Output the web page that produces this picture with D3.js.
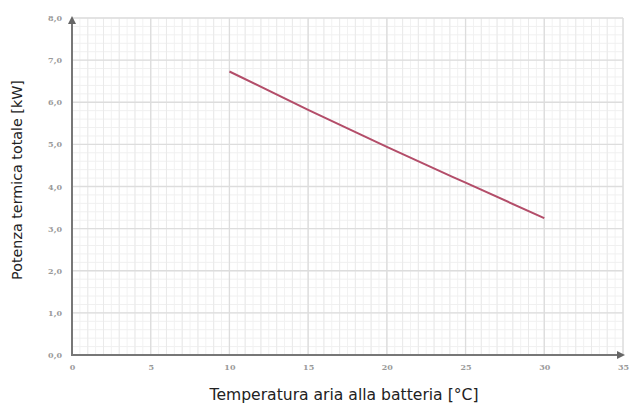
<!DOCTYPE html>
<html><head><meta charset="utf-8">
<script src="https://cdn.jsdelivr.net/npm/d3@7"></script>
<style>body{margin:0;background:#fff}svg{display:block}</style>
</head><body>
<svg id="c" width="630" height="403"></svg>
<script>
const temps = [10, 15, 20, 25, 30];
const power = [6.73, 5.82, 4.94, 4.09, 3.25];
const xTicks = [0, 5, 10, 15, 20, 25, 30, 35];
const yTicks = [0, 1, 2, 3, 4, 5, 6, 7, 8];
const xTitle = "Temperatura aria alla batteria [°C]";
const yTitle = "Potenza termica totale [kW]";

const svg = d3.select("#c");
const x = d3.scaleLinear().domain([0, 35]).range([72, 623]);
const y = d3.scaleLinear().domain([0, 8]).range([355, 18]);

const g = svg.append("g");
// minor grid
g.selectAll(".mx").data(d3.range(0, 35.01, 0.5)).join("line")
  .attr("x1", d => x(d)).attr("x2", d => x(d)).attr("y1", y(8)).attr("y2", y(0))
  .attr("stroke", "#f2f2f2").attr("stroke-width", 1);
g.selectAll(".my").data(d3.range(0, 8.01, 0.2)).join("line")
  .attr("y1", d => y(d)).attr("y2", d => y(d)).attr("x1", x(0)).attr("x2", x(35))
  .attr("stroke", "#f0f0f0").attr("stroke-width", 1);
// mid grid
g.selectAll(".ix").data(d3.range(0, 35.01, 1)).join("line")
  .attr("x1", d => x(d)).attr("x2", d => x(d)).attr("y1", y(8)).attr("y2", y(0))
  .attr("stroke", "#eaeaea").attr("stroke-width", 1);
// major grid
g.selectAll(".gx").data(xTicks).join("line")
  .attr("x1", d => x(d)).attr("x2", d => x(d)).attr("y1", y(8)).attr("y2", y(0))
  .attr("stroke", "#dddddd").attr("stroke-width", 1.3);
g.selectAll(".gy").data(yTicks).join("line")
  .attr("y1", d => y(d)).attr("y2", d => y(d)).attr("x1", x(0)).attr("x2", x(35))
  .attr("stroke", "#dddddd").attr("stroke-width", 1.3);

// axes
const fmt = d => d3.format(".1f")(d).replace(".", ",");
const xAxis = svg.append("g").attr("transform", `translate(0,${y(0)})`)
  .call(d3.axisBottom(x).tickValues(xTicks).tickSize(0).tickPadding(9).tickFormat(d3.format("d")));
const yAxis = svg.append("g").attr("transform", `translate(${x(0)},0)`)
  .call(d3.axisLeft(y).tickValues(yTicks).tickSize(0).tickPadding(10).tickFormat(fmt));
[xAxis, yAxis].forEach(a => {
  a.select(".domain").remove();
  a.selectAll("text").attr("fill", "#9a9a9a").style("font-family", "DejaVu Serif").style("font-size", "8px").style("font-weight", "bold");
});

svg.append("defs").append("marker").attr("id", "arr").attr("viewBox", "0 0 10 10")
  .attr("refX", 5).attr("refY", 5).attr("markerWidth", 4).attr("markerHeight", 4).attr("orient", "auto")
  .append("path").attr("d", "M0,0L10,5L0,10z").attr("fill", "#666");
svg.append("line").attr("x1", x(0)).attr("x2", x(0)).attr("y1", y(0) + 1).attr("y2", y(8) + 2)
  .attr("stroke", "#777").attr("stroke-width", 2).attr("marker-end", "url(#arr)");
svg.append("line").attr("x1", x(0) - 1).attr("x2", x(35) - 2).attr("y1", y(0)).attr("y2", y(0))
  .attr("stroke", "#777").attr("stroke-width", 2).attr("marker-end", "url(#arr)");

// series
const pts = temps.map((t, i) => [t, power[i]]);
svg.append("path").datum(pts)
  .attr("d", d3.line().x(d => x(d[0])).y(d => y(d[1])).curve(d3.curveMonotoneX))
  .attr("fill", "none").attr("stroke", "#b34d69").attr("stroke-width", 2);

// titles
svg.append("text").attr("x", 344).attr("y", 400).attr("text-anchor", "middle")
  .style("font-family", "DejaVu Sans").style("font-size", "15.6px").attr("fill", "#222").text(xTitle);
svg.append("text").attr("transform", `translate(22,180) rotate(-90)`).attr("text-anchor", "middle")
  .style("font-family", "DejaVu Sans").style("font-size", "14.3px").attr("fill", "#222").text(yTitle);
</script>
</body></html>
